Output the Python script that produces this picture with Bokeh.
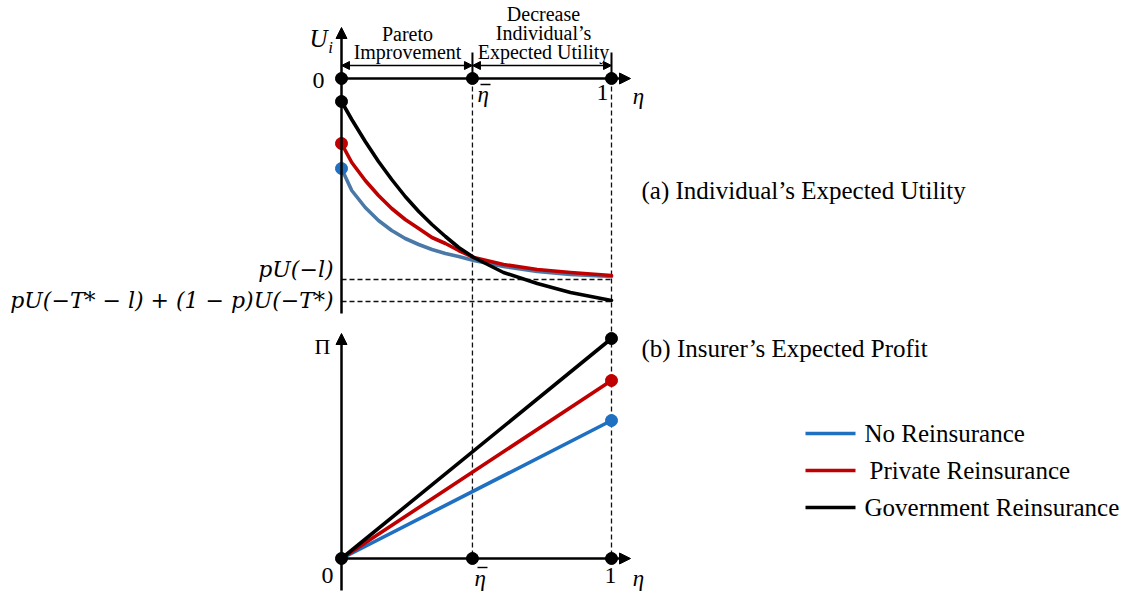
from bokeh.plotting import figure
from bokeh.models import Range1d, Arrow, NormalHead, Label
from bokeh.embed import file_html
from bokeh.resources import INLINE

# ---------------- data ----------------
series = ["No Reinsurance", "Private Reinsurance", "Government Reinsurance"]
colors = ["#1f70c1", "#c00000", "#000000"]
curve_colors = ["#4a79a8", "#c00000", "#000000"]

# (a) individual's expected utility
eta_u = [0.0, 0.038, 0.088, 0.137, 0.186, 0.236, 0.286, 0.335, 0.385, 0.434, 0.49, 0.60, 0.725, 0.848, 1.0]
u_none = [-0.90, -1.12, -1.29, -1.42, -1.52, -1.60, -1.66, -1.71, -1.75, -1.78, -1.82, -1.88, -1.93, -1.96, -1.98]
u_private = [-0.65, -0.84, -1.02, -1.17, -1.30, -1.41, -1.50, -1.59, -1.65, -1.72, -1.79, -1.86, -1.91, -1.94, -1.97]
u_gov = [-0.23, -0.41, -0.63, -0.83, -1.01, -1.18, -1.33, -1.46, -1.58, -1.69, -1.79, -1.94, -2.05, -2.14, -2.22]

# (b) insurer's expected profit
eta_pi = [0.0, 1.0]
pi_none = [0.0, 1.38]
pi_private = [0.0, 1.78]
pi_gov = [0.0, 2.20]

eta_marks = [0.0, 0.485, 1.0]          # 0, eta-bar, 1
eta_tick_labels = ["0", "η", "1"]      # middle one gets a bar drawn over it
ref_levels = [-2.01, -2.23]             # pU(-l), pU(-T*-l)+(1-p)U(-T*)
ref_labels = ["pU(−l)", "pU(−T* − l) + (1 − p)U(−T*)"]

# ---------------- helpers for placing decorations (page pixels) ----------------
W, H = 1125, 593


def px_x(px):
    return (px - 341) / 270.0


def px_u(py):
    return (78 - py) / 100.0


def px_pi(py):
    return (558 - py) / 100.0


SERIF = "Liberation Serif"

p = figure(width=W, height=H, output_backend="svg", toolbar_location=None,
           x_range=Range1d(px_x(0), px_x(W)), y_range=Range1d(px_u(H), px_u(0)),
           min_border=0, x_axis_location=None, y_axis_location=None,
           outline_line_color=None, background_fill_color="white")
p.grid.visible = False
p.extra_y_ranges = {"pi": Range1d(px_pi(H), px_pi(0))}

# dashed guide lines
for e in eta_marks[1:]:
    p.segment(x0=[e], y0=[0.0], x1=[e], y1=[px_u(558)], line_color="#111111",
              line_width=1.3, line_dash="5 3")
for lv in ref_levels:
    p.segment(x0=[0.0], y0=[lv], x1=[1.0], y1=[lv], line_color="#111111",
              line_width=1.3, line_dash="5 3")

# axes
head = dict(size=11, fill_color="black", line_color="black", line_width=1)
p.add_layout(Arrow(end=NormalHead(**head), x_start=0, y_start=0, x_end=px_x(630), y_end=0,
                   line_width=2.5, line_color="black"))
p.add_layout(Arrow(end=NormalHead(**head), x_start=0, y_start=px_u(313), x_end=0, y_end=px_u(27),
                   line_width=2.5, line_color="black"))
p.add_layout(Arrow(end=NormalHead(**head), x_start=0, y_start=0, x_end=px_x(630), y_end=0,
                   line_width=2.5, line_color="black", y_range_name="pi"))
p.add_layout(Arrow(end=NormalHead(**head), x_start=0, y_start=px_pi(590), x_end=0, y_end=px_pi(333),
                   line_width=2.5, line_color="black", y_range_name="pi"))

# region brackets above top axis
for e in eta_marks[1:]:
    p.segment(x0=[e], y0=[0.0], x1=[e], y1=[px_u(52)], line_color="black", line_width=2)
small = dict(size=8, fill_color="black", line_color="black", line_width=1)
yb = px_u(65)
p.add_layout(Arrow(start=NormalHead(**small), end=NormalHead(**small), x_start=eta_marks[0], y_start=yb,
                   x_end=eta_marks[1], y_end=yb, line_width=1.5))
p.add_layout(Arrow(start=NormalHead(**small), end=NormalHead(**small), x_start=eta_marks[1], y_start=yb,
                   x_end=eta_marks[2], y_end=yb, line_width=1.5))

# (a) utility curves
for ys, c in zip([u_none, u_private, u_gov], curve_colors):
    p.line(eta_u, ys, line_color=c, line_width=3.6, line_join="round", line_cap="round")
p.scatter([eta_u[0]] * 3, [u_none[0], u_private[0], u_gov[0]], size=12,
          color=[colors[0], colors[1], colors[2]])

# (b) profit lines
for ys, c in zip([pi_none, pi_private, pi_gov], colors):
    p.line(eta_pi, ys, line_color=c, line_width=3.6, line_cap="round", y_range_name="pi")
p.scatter([eta_pi[-1]] * 3, [pi_none[-1], pi_private[-1], pi_gov[-1]], size=12,
          color=colors, y_range_name="pi")

# axis dots
p.scatter(eta_marks, [0, 0, 0], size=12, color="black")
p.scatter(eta_marks, [0, 0, 0], size=12, color="black", y_range_name="pi")


def lab(x, y, text, size, align="left", base="middle", style="normal", rng="default", font=SERIF):
    p.add_layout(Label(x=x, y=y, text=text, text_font=font, text_font_size=size,
                       text_align=align, text_baseline=base, text_font_style=style,
                       text_color="black", y_range_name=rng))


# top axis labels
lab(px_x(318), px_u(38), "U", "25px", align="center", style="italic")
lab(px_x(330), px_u(47), "i", "17px", align="center", style="italic")
lab(px_x(318), px_u(80), eta_tick_labels[0], "24px", align="center")
lab(px_x(477), px_u(94), eta_tick_labels[1], "23px", align="left", style="italic")
p.segment(x0=[px_x(480)], y0=[px_u(84)], x1=[px_x(490)], y1=[px_u(84)], line_color="black", line_width=1.4)
lab(px_x(602), px_u(92), eta_tick_labels[2], "24px", align="center")
lab(px_x(638), px_u(96), "η", "23px", align="center", style="italic")

# bottom axis labels
lab(px_x(322), px_pi(346), "Π", "22px", align="center", rng="pi")
lab(px_x(327), px_pi(575), eta_tick_labels[0], "24px", align="center", rng="pi")
lab(px_x(474), px_pi(578), eta_tick_labels[1], "23px", align="left", style="italic", rng="pi")
p.segment(x0=[px_x(477)], y0=[px_pi(567)], x1=[px_x(487)], y1=[px_pi(567)], line_color="black",
          line_width=1.4, y_range_name="pi")
lab(px_x(610), px_pi(575), eta_tick_labels[2], "24px", align="center", rng="pi")
lab(px_x(638), px_pi(578), "η", "23px", align="center", style="italic", rng="pi")

# reference level labels
lab(px_x(333), px_u(269), ref_labels[0], "22px", align="right", style="italic", font="DejaVu Serif")
lab(px_x(333), px_u(300), ref_labels[1], "22px", align="right", style="italic", font="DejaVu Serif")

# region text
lab(px_x(407), px_u(33), "Pareto", "20px", align="center")
lab(px_x(407), px_u(51), "Improvement", "20px", align="center")
lab(px_x(543), px_u(13), "Decrease", "20px", align="center")
lab(px_x(543), px_u(32), "Individual’s", "20px", align="center")
lab(px_x(543), px_u(51), "Expected Utility", "20px", align="center")

# panel titles
lab(px_x(641), px_u(190), "(a) Individual’s Expected Utility", "25px")
lab(px_x(641), px_u(348), "(b) Insurer’s Expected Profit", "25px")

# legend
for i, (name, c) in enumerate(zip(series, colors)):
    yy = px_u(433 + 37 * i)
    p.segment(x0=[px_x(805)], y0=[yy], x1=[px_x(855)], y1=[yy], line_color=c, line_width=3.6)
    lab(px_x(864 if i != 1 else 869), yy, name, "25px")

open("out.html", "w").write(file_html(p, INLINE))
